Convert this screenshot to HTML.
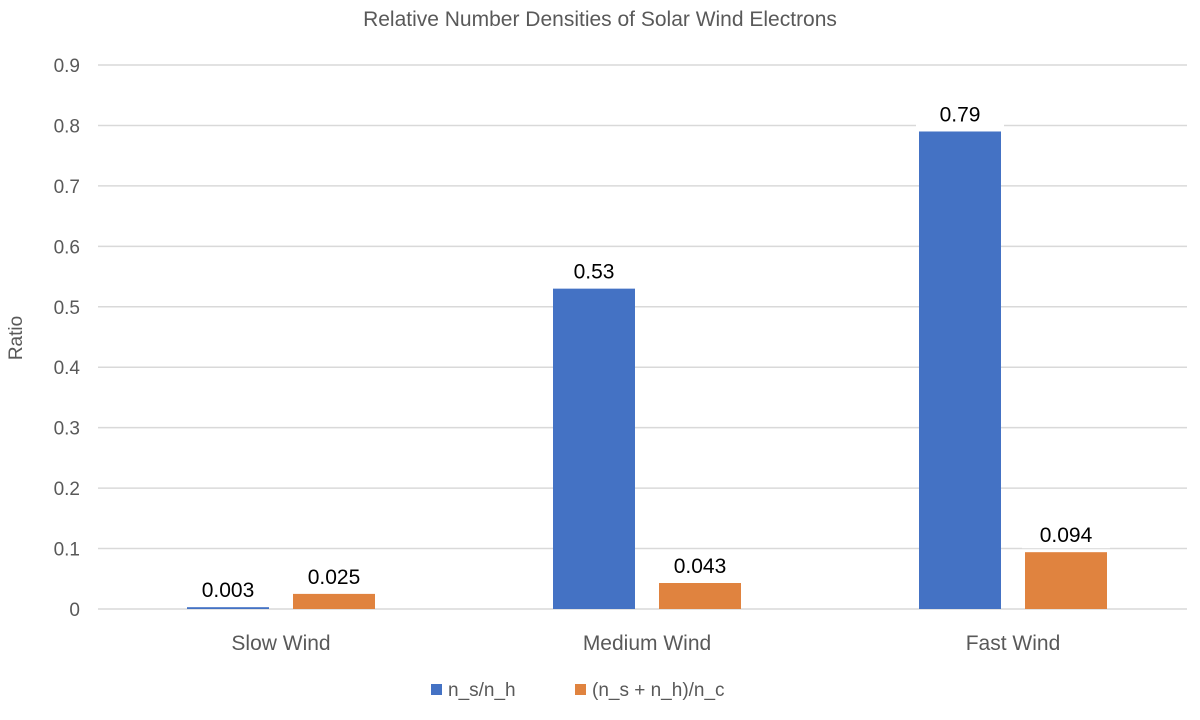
<!DOCTYPE html>
<html><head><meta charset="utf-8"><style>
body{margin:0;background:#fff;}
svg{font-family:"Liberation Sans",sans-serif;}
</style></head><body>
<svg id="c" width="1200" height="715" xmlns="http://www.w3.org/2000/svg">
<text x="600" y="26" text-anchor="middle" font-size="21" fill="#595959">Relative Number Densities of Solar Wind Electrons</text>
<text transform="translate(22,338) rotate(-90)" text-anchor="middle" font-size="19" fill="#595959">Ratio</text>
<g id="grid"></g><g id="bars"></g><g id="labels"></g>
<g>
<rect x="431" y="684" width="11" height="11" fill="#4472c4"/>
<text x="448" y="696" font-size="19" fill="#595959">n_s/n_h</text>
<rect x="575" y="684" width="11" height="11" fill="#e0833f"/>
<text x="592" y="696" font-size="19" fill="#595959">(n_s + n_h)/n_c</text>
</g>
</svg>
<script>
const categories=["Slow Wind","Medium Wind","Fast Wind"];
const seriesA=[0.003,0.53,0.79];
const seriesB=[0.025,0.043,0.094];
const labelsA=["0.003","0.53","0.79"];
const labelsB=["0.025","0.043","0.094"];
const yTicks=[0,0.1,0.2,0.3,0.4,0.5,0.6,0.7,0.8,0.9];
const NS="http://www.w3.org/2000/svg";
const x0=98,x1=1187,yZero=609,yTop=65,yMax=0.9;
const y=v=>yZero-(v/yMax)*(yZero-yTop);
const bw=366;
const xc=i=>x0+bw*(i+0.5);
function mk(t,a,p){const e=document.createElementNS(NS,t);for(const k in a)e.setAttribute(k,a[k]);p.appendChild(e);return e;}
const g=document.getElementById('grid'),b=document.getElementById('bars'),l=document.getElementById('labels');
yTicks.forEach(v=>{
 const ln=mk('line',{x1:x0,x2:x1,y1:y(v),y2:y(v),stroke:'#d9d9d9','stroke-width':1.5},g);
 
 
 const t=mk('text',{x:80,y:y(v)+7,'text-anchor':'end','font-size':19,fill:'#595959'},g);
 t.textContent=String(v);
 
 
});
const barW=82,off=53;
function bar(i,v,lab,col,dx,nm){
 const cx=xc(i)+dx;
 const r=mk('rect',{x:cx-barW/2,y:y(v),width:barW,height:Math.max(yZero-y(v),1.5),fill:col},b);
 
 
 const ty=y(v)-10;
 const bg=mk('rect',{x:cx-44,y:ty-23,width:88,height:29,fill:'#fff'},l);
 
 
 const t=mk('text',{x:cx,y:ty,'text-anchor':'middle','font-size':21,fill:'#000'},l);
 t.textContent=lab;
 
 
}
categories.forEach((c,i)=>{
 bar(i,seriesA[i],labelsA[i],'#4472c4',-off,'bar-ns-nh');
 bar(i,seriesB[i],labelsB[i],'#e0833f',off,'bar-ratio-nc');
 const t=mk('text',{x:xc(i),y:650,'text-anchor':'middle','font-size':21,fill:'#595959'},l);
 t.textContent=c;
 
 
});
</script>
</body></html>
